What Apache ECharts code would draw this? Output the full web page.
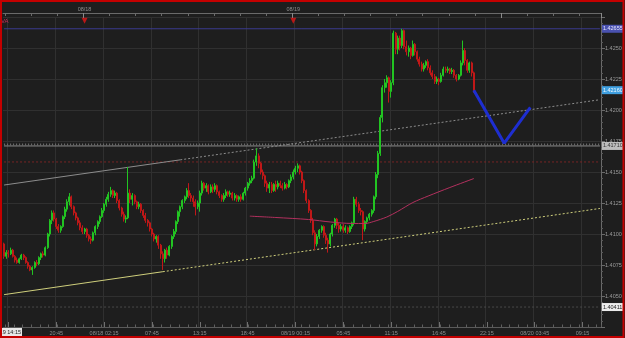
<!DOCTYPE html>
<html><head><meta charset="utf-8">
<script src="https://cdn.jsdelivr.net/npm/echarts@6/dist/echarts.min.js"></script>
<style>html,body{margin:0;padding:0;background:#1e1e1e;}#c{width:625px;height:338px;}</style>
</head><body><div id="c"></div><script>
// ---- data ----
const categoryCount = 275;
const categories = Array.from({length: categoryCount}, (_, i) => String(i));
const candleOpen = [1.4092,1.4082,1.4085,1.4084,1.4087,1.4082,1.4079,1.4077,1.4080,1.4083,
1.4081,1.4077,1.4074,1.4071,1.4073,1.4077,1.4076,1.4081,1.4084,1.4083,
1.4089,1.4100,1.4111,1.4117,1.4112,1.4106,1.4103,1.4106,1.4114,1.4120,
1.4126,1.4130,1.4122,1.4117,1.4113,1.4109,1.4105,1.4102,1.4104,1.4099,
1.4096,1.4095,1.4101,1.4106,1.4110,1.4114,1.4119,1.4124,1.4128,1.4132,
1.4135,1.4131,1.4133,1.4127,1.4121,1.4116,1.4112,1.4113,1.4133,1.4128,
1.4131,1.4126,1.4122,1.4124,1.4119,1.4115,1.4111,1.4109,1.4104,1.4100,
1.4096,1.4098,1.4091,1.4084,1.4080,1.4087,1.4083,1.4090,1.4098,1.4102,
1.4110,1.4118,1.4122,1.4127,1.4130,1.4135,1.4131,1.4129,1.4126,1.4122,
1.4125,1.4133,1.4141,1.4137,1.4139,1.4134,1.4138,1.4136,1.4139,1.4134,
1.4131,1.4128,1.4131,1.4134,1.4132,1.4133,1.4129,1.4131,1.4128,1.4130,
1.4128,1.4133,1.4137,1.4141,1.4143,1.4145,1.4158,1.4163,1.4157,1.4150,
1.4147,1.4141,1.4137,1.4140,1.4135,1.4140,1.4138,1.4141,1.4139,1.4137,
1.4140,1.4138,1.4143,1.4146,1.4150,1.4153,1.4155,1.4150,1.4143,1.4135,
1.4127,1.4119,1.4111,1.4101,1.4092,1.4098,1.4103,1.4106,1.4099,1.4095,
1.4092,1.4100,1.4107,1.4112,1.4107,1.4104,1.4106,1.4103,1.4105,1.4102,
1.4106,1.4109,1.4128,1.4124,1.4119,1.4118,1.4104,1.4110,1.4113,1.4116,
1.4119,1.4130,1.4148,1.4165,1.4194,1.4218,1.4222,1.4226,1.4215,1.4222,
1.4262,1.4249,1.4258,1.4252,1.4264,1.4251,1.4247,1.4250,1.4244,1.4253,
1.4247,1.4241,1.4237,1.4233,1.4236,1.4239,1.4234,1.4230,1.4227,1.4223,
1.4225,1.4223,1.4228,1.4233,1.4232,1.4233,1.4231,1.4232,1.4228,1.4225,
1.4228,1.4238,1.4248,1.4240,1.4232,1.4238,1.4230];
const candleClose = [1.4082,1.4085,1.4084,1.4087,1.4082,1.4079,1.4077,1.4080,1.4083,1.4081,
1.4077,1.4074,1.4071,1.4073,1.4077,1.4076,1.4081,1.4084,1.4083,1.4089,
1.4100,1.4111,1.4117,1.4112,1.4106,1.4103,1.4106,1.4114,1.4120,1.4126,
1.4130,1.4122,1.4117,1.4113,1.4109,1.4105,1.4102,1.4104,1.4099,1.4096,
1.4095,1.4101,1.4106,1.4110,1.4114,1.4119,1.4124,1.4128,1.4132,1.4135,
1.4131,1.4133,1.4127,1.4121,1.4116,1.4112,1.4113,1.4133,1.4128,1.4131,
1.4126,1.4122,1.4124,1.4119,1.4115,1.4111,1.4109,1.4104,1.4100,1.4096,
1.4098,1.4091,1.4084,1.4080,1.4087,1.4083,1.4090,1.4098,1.4102,1.4110,
1.4118,1.4122,1.4127,1.4130,1.4135,1.4131,1.4129,1.4126,1.4122,1.4125,
1.4133,1.4141,1.4137,1.4139,1.4134,1.4138,1.4136,1.4139,1.4134,1.4131,
1.4128,1.4131,1.4134,1.4132,1.4133,1.4129,1.4131,1.4128,1.4130,1.4128,
1.4133,1.4137,1.4141,1.4143,1.4145,1.4158,1.4163,1.4157,1.4150,1.4147,
1.4141,1.4137,1.4140,1.4135,1.4140,1.4138,1.4141,1.4139,1.4137,1.4140,
1.4138,1.4143,1.4146,1.4150,1.4153,1.4155,1.4150,1.4143,1.4135,1.4127,
1.4119,1.4111,1.4101,1.4092,1.4098,1.4103,1.4106,1.4099,1.4095,1.4092,
1.4100,1.4107,1.4112,1.4107,1.4104,1.4106,1.4103,1.4105,1.4102,1.4106,
1.4109,1.4128,1.4124,1.4119,1.4118,1.4104,1.4110,1.4113,1.4116,1.4119,
1.4130,1.4148,1.4165,1.4194,1.4218,1.4222,1.4226,1.4215,1.4222,1.4262,
1.4249,1.4258,1.4252,1.4264,1.4251,1.4247,1.4250,1.4244,1.4253,1.4247,
1.4241,1.4237,1.4233,1.4236,1.4239,1.4234,1.4230,1.4227,1.4223,1.4225,
1.4223,1.4228,1.4233,1.4232,1.4233,1.4231,1.4232,1.4228,1.4225,1.4228,
1.4238,1.4248,1.4240,1.4232,1.4238,1.4230,1.4216];
const candleLow = [1.4080,1.4080,1.4081,1.4083,1.4081,1.4077,1.4076,1.4076,1.4079,1.4079,
1.4076,1.4072,1.4070,1.4067,1.4072,1.4074,1.4075,1.4079,1.4081,1.4082,
1.4088,1.4098,1.4108,1.4110,1.4104,1.4101,1.4101,1.4105,1.4112,1.4118,
1.4123,1.4120,1.4115,1.4111,1.4107,1.4103,1.4100,1.4100,1.4097,1.4094,
1.4092,1.4094,1.4099,1.4104,1.4108,1.4113,1.4117,1.4122,1.4126,1.4130,
1.4129,1.4129,1.4125,1.4119,1.4114,1.4110,1.4109,1.4112,1.4125,1.4123,
1.4124,1.4120,1.4120,1.4117,1.4113,1.4109,1.4106,1.4102,1.4098,1.4094,
1.4093,1.4088,1.4080,1.4071,1.4077,1.4080,1.4082,1.4088,1.4096,1.4100,
1.4108,1.4114,1.4120,1.4125,1.4128,1.4129,1.4126,1.4122,1.4115,1.4120,
1.4118,1.4131,1.4135,1.4134,1.4132,1.4133,1.4133,1.4134,1.4132,1.4129,
1.4126,1.4126,1.4129,1.4130,1.4130,1.4127,1.4127,1.4126,1.4126,1.4126,
1.4127,1.4131,1.4135,1.4139,1.4141,1.4144,1.4155,1.4153,1.4148,1.4144,
1.4138,1.4134,1.4133,1.4133,1.4134,1.4134,1.4136,1.4137,1.4135,1.4136,
1.4136,1.4137,1.4141,1.4144,1.4148,1.4150,1.4148,1.4141,1.4133,1.4125,
1.4117,1.4109,1.4099,1.4087,1.4090,1.4096,1.4101,1.4097,1.4092,1.4085,
1.4090,1.4098,1.4105,1.4104,1.4101,1.4102,1.4101,1.4101,1.4100,1.4101,
1.4104,1.4107,1.4122,1.4117,1.4115,1.4095,1.4102,1.4108,1.4111,1.4114,
1.4117,1.4128,1.4145,1.4163,1.4190,1.4214,1.4218,1.4206,1.4210,1.4220,
1.4245,1.4245,1.4248,1.4250,1.4249,1.4244,1.4243,1.4241,1.4243,1.4244,
1.4239,1.4235,1.4231,1.4231,1.4234,1.4232,1.4228,1.4225,1.4221,1.4221,
1.4220,1.4222,1.4227,1.4230,1.4230,1.4229,1.4229,1.4226,1.4223,1.4224,
1.4227,1.4236,1.4236,1.4230,1.4230,1.4227,1.4214];
const candleHigh = [1.4093,1.4087,1.4087,1.4089,1.4088,1.4083,1.4081,1.4081,1.4084,1.4084,
1.4082,1.4078,1.4075,1.4074,1.4078,1.4079,1.4082,1.4085,1.4086,1.4090,
1.4101,1.4112,1.4119,1.4119,1.4113,1.4108,1.4107,1.4115,1.4122,1.4128,
1.4133,1.4131,1.4123,1.4118,1.4114,1.4111,1.4107,1.4105,1.4105,1.4100,
1.4098,1.4102,1.4107,1.4111,1.4115,1.4121,1.4125,1.4130,1.4134,1.4138,
1.4136,1.4135,1.4134,1.4128,1.4122,1.4118,1.4115,1.4154,1.4136,1.4133,
1.4132,1.4127,1.4126,1.4125,1.4120,1.4117,1.4112,1.4110,1.4105,1.4101,
1.4099,1.4099,1.4092,1.4086,1.4088,1.4089,1.4091,1.4099,1.4104,1.4111,
1.4119,1.4123,1.4128,1.4131,1.4137,1.4141,1.4133,1.4131,1.4128,1.4127,
1.4135,1.4143,1.4142,1.4141,1.4140,1.4140,1.4140,1.4141,1.4140,1.4135,
1.4132,1.4133,1.4136,1.4135,1.4135,1.4134,1.4133,1.4132,1.4131,1.4132,
1.4134,1.4138,1.4142,1.4145,1.4147,1.4160,1.4169,1.4165,1.4158,1.4152,
1.4148,1.4143,1.4142,1.4142,1.4141,1.4143,1.4143,1.4143,1.4141,1.4142,
1.4141,1.4144,1.4148,1.4152,1.4155,1.4157,1.4156,1.4151,1.4144,1.4136,
1.4128,1.4120,1.4113,1.4103,1.4100,1.4104,1.4107,1.4107,1.4101,1.4097,
1.4101,1.4108,1.4113,1.4113,1.4109,1.4108,1.4108,1.4107,1.4106,1.4107,
1.4110,1.4130,1.4130,1.4126,1.4121,1.4119,1.4111,1.4114,1.4117,1.4120,
1.4131,1.4150,1.4167,1.4196,1.4220,1.4225,1.4228,1.4227,1.4224,1.4264,
1.4263,1.4260,1.4260,1.42655,1.4265,1.4256,1.4252,1.4251,1.4256,1.4254,
1.4248,1.4243,1.4239,1.4238,1.4240,1.4241,1.4236,1.4232,1.4229,1.4227,
1.4226,1.4230,1.4235,1.4235,1.4235,1.4234,1.4234,1.4233,1.4229,1.4229,
1.4240,1.4256,1.4250,1.4241,1.4239,1.4239,1.4231];

// moving average (read points)
const maIdx = [113,125,140,150,160,166,170,176,181,188,195,205,216];
const maVal = [1.41144,1.41133,1.41117,1.41097,1.41085,1.41085,1.41101,1.41137,1.41182,1.41254,1.41306,1.41375,1.41447];
// trend lines: [start, anchor, end]
const upperTrendIdx = [0, 81, 274];
const upperTrendVal = [1.41395, 1.41598, 1.42083];
const lowerTrendIdx = [0, 73, 274];
const lowerTrendVal = [1.40511, 1.40696, 1.41206];
// forecast path
const fcIdx = [216, 230, 242];
const fcVal = [1.42160, 1.41732, 1.42022];
// horizontal levels
const levelBlue = 1.42655, levelLast = 1.42160, levelGrey = 1.41710, levelRed = 1.41581, levelLow = 1.40411;
const levelSpan = [0, 274];
// event markers (top)
const eventIdx = [37, 133];
const eventPrice = 1.4272;
// axis ticks / labels
const xTickIdx = [2,24,46,68,90,112,134,156,178,200,222,244,266];
const xTickLabels = ['','20:45','08/18 02:15','07:45','13:15','18:45','08/19 00:15','05:45','11:15','16:45','22:15','08/20 03:45','09:15'];
const dayTickIdx = [37,133,229];
const dayLabelIdx = [37,133];
const dayLabels = ['08/18','08/19'];
const yLabelValues = [1.4050,1.4075,1.4100,1.4125,1.4150,1.4175,1.4200,1.4225,1.4250];
const cursorLabel = '08/19 14:15';

// ---- build ----
const FONT = 'Liberation Sans';
const labelMap = {}; xTickIdx.forEach((k,j)=>{labelMap[k]=xTickLabels[j];});
const dayMap = {}; dayLabelIdx.forEach((k,j)=>{dayMap[k]=dayLabels[j];});
const candleData = candleOpen.map((o,i)=>[o, candleClose[i], candleLow[i], candleHigh[i]]);
const pair = (idx, val, a, b) => [[idx[a], val[a]], [idx[b], val[b]]];

function level(v, line, tagBg, tagFg, z) {
  const s = {type: 'line', data: levelSpan.map(k => [k, v]), symbol: 'none', silent: true, z: z || 1,
    lineStyle: line};
  if (tagBg) {
    s.endLabel = {show: true, distance: 2, formatter: () => v.toFixed(5),
      backgroundColor: tagBg, color: tagFg, fontSize: 5.5, fontFamily: FONT, padding: [1.5, 1, 0.5, 1]};
  }
  return s;
}

const chart = echarts.init(document.getElementById('c'), null, {renderer: 'canvas'});
chart.setOption({
  animation: false,
  backgroundColor: '#1e1e1e',
  grid: {left: 3, right: 24, top: 17, bottom: 11, containLabel: false},
  xAxis: [
    {type: 'category', data: categories, position: 'bottom', boundaryGap: true,
     axisLine: {show: true, lineStyle: {color: '#5a5a5a'}},
     axisTick: {show: true, inside: true, length: 5, alignWithLabel: true,
       interval: (i) => labelMap[i] !== undefined, lineStyle: {color: '#707070'}},
     axisLabel: {show: true, interval: (i) => labelMap[i] !== undefined,
       formatter: (v, i) => labelMap[i] || '', color: '#8e8e8e', fontSize: 5.5, fontFamily: FONT, margin: 3},
     splitLine: {show: true, interval: (i) => labelMap[i] !== undefined, lineStyle: {color: '#303030'}}},
    {type: 'category', data: categories, position: 'bottom', boundaryGap: true,
     axisLine: {show: false},
     axisTick: {show: true, inside: true, length: 2.5, interval: (i) => (i - 1) % 4 === 0, lineStyle: {color: '#5e5e5e'}},
     axisLabel: {show: false}, splitLine: {show: false}},
    {type: 'category', data: categories, position: 'top', offset: 4, boundaryGap: true,
     axisLine: {show: true, lineStyle: {color: '#6a6a6a'}},
     axisTick: {show: true, inside: true, length: 3, interval: (i) => (i - 1) % 12 === 0, lineStyle: {color: '#6a6a6a'}},
     axisLabel: {show: true, interval: (i) => dayMap[i] !== undefined, formatter: (v, i) => dayMap[i] || '',
       color: '#8e8e8e', fontSize: 5.5, fontFamily: FONT, margin: 1},
     splitLine: {show: false}},
    {type: 'category', data: categories, position: 'top', offset: 4, boundaryGap: true,
     axisLine: {show: false},
     axisTick: {show: true, inside: true, length: 5, interval: (i) => dayTickIdx.indexOf(i) >= 0, lineStyle: {color: '#8a8a8a'}},
     axisLabel: {show: false}, splitLine: {show: false}}
  ],
  yAxis: [{type: 'value', position: 'right', min: 1.4025, max: 1.4275, interval: 0.0025,
    axisLine: {show: true, lineStyle: {color: '#6a6a6a'}},
    axisTick: {show: true, length: 4, lineStyle: {color: '#6a6a6a'}},
    minorTick: {show: true, splitNumber: 5, length: 2, lineStyle: {color: '#5a5a5a'}},
    axisLabel: {color: '#9a9a9a', fontSize: 5.5, fontFamily: FONT, margin: 4,
      formatter: (v) => yLabelValues.some(t => Math.abs(t - v) < 1e-7) ? v.toFixed(4) : ''},
    splitLine: {show: true, lineStyle: {color: '#303030'}}}],
  series: [
    level(levelBlue, {color: '#3a3a8e', width: 1}, '#4a52b0', '#e6e6ff'),
    level(levelLast, {color: 'rgba(0,0,0,0)', width: 0}, '#3f9fdf', '#f2f8ff'),
    level(levelGrey, {color: '#8a8a8a', width: 1}, '#bdbdbd', '#333333'),
    level(levelGrey + 0.00012, {color: '#6e6e6e', width: 2, type: [1, 2]}),
    level(levelRed, {color: '#7a2424', width: 1, type: [2, 2]}),
    level(levelLow, {color: '#4a4a4a', width: 1, type: [2, 2]}, '#ececec', '#222222'),
    {type: 'line', name: 'upper', data: pair(upperTrendIdx, upperTrendVal, 0, 1), symbol: 'none',
     lineStyle: {color: '#8c8c8c', width: 1}, z: 2},
    {type: 'line', name: 'upperExt', data: pair(upperTrendIdx, upperTrendVal, 1, 2), symbol: 'none',
     lineStyle: {color: '#8c8c8c', width: 1, type: [2, 2]}, z: 2},
    {type: 'line', name: 'lower', data: pair(lowerTrendIdx, lowerTrendVal, 0, 1), symbol: 'none',
     lineStyle: {color: '#cfcf7c', width: 1}, z: 2},
    {type: 'line', name: 'lowerExt', data: pair(lowerTrendIdx, lowerTrendVal, 1, 2), symbol: 'none',
     lineStyle: {color: '#cfcf7c', width: 1, type: [2, 2]}, z: 2},
    {type: 'candlestick', name: 'price', data: candleData, barWidth: 1.5, z: 3,
     itemStyle: {color: '#22c422', color0: '#c01818', borderColor: '#22c422', borderColor0: '#c01818', borderWidth: 1}},
    {type: 'line', name: 'ma', data: maIdx.map((k, j) => [k, maVal[j]]), symbol: 'none', smooth: 0.3,
     lineStyle: {color: '#b3305e', width: 1}, z: 4},
    {type: 'line', name: 'forecast', symbol: 'none', showSymbol: true, z: 5,
     data: fcIdx.map((k, j) => j === fcIdx.length - 1
        ? {value: [k, fcVal[j]], symbol: 'triangle', symbolSize: 8, symbolRotate: -36, itemStyle: {color: '#1e2ed0'}}
        : [k, fcVal[j]]),
     lineStyle: {color: '#1e2ed0', width: 3}, itemStyle: {color: '#1e2ed0'}},
    {type: 'scatter', name: 'events', data: eventIdx.map(k => [k, eventPrice]), symbol: 'triangle',
     symbolRotate: 180, symbolSize: [6, 6], itemStyle: {color: '#e01515'}, z: 6}
  ],
  graphic: [
    {type: 'text', left: 1, top: 18, z: 60, style: {text: 'VA', fill: '#c0305a', font: '6px Liberation Sans'}},
    {type: 'rect', shape: {x: 0, y: 328, width: 22, height: 8.5}, z: 60, style: {fill: '#e8e8e8'}},
    {type: 'text', x: 21, y: 332.5, z: 61, style: {text: cursorLabel, fill: '#222', font: '5.5px Liberation Sans', align: 'right', verticalAlign: 'middle'}},
    {type: 'rect', shape: {x: 1, y: 1, width: 622.5, height: 336}, z: 100, style: {fill: 'none', stroke: '#c40000', lineWidth: 2}}
  ]
});
</script></body></html>
